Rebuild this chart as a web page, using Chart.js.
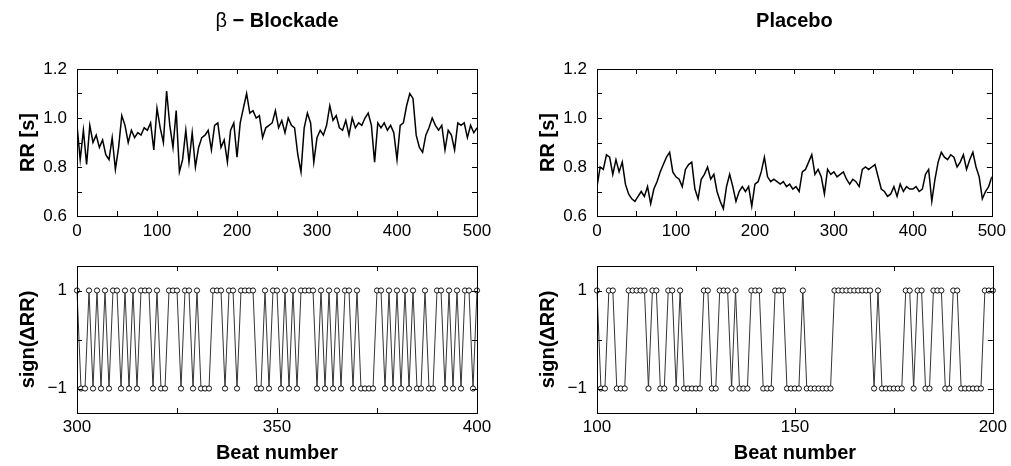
<!DOCTYPE html>
<html>
<head>
<meta charset="utf-8">
<script src="https://cdn.jsdelivr.net/npm/chart.js@4/dist/chart.umd.min.js"></script>
<style>
  body { margin: 0; background: #fff; }
  #wrap { position: relative; width: 1011px; height: 466px; }
  canvas { position: absolute; left: 0; top: 0; }
</style>
</head>
<body>
<div id="wrap">
  <canvas id="rrBetaChart" width="1011" height="466"></canvas>
  <canvas id="rrPlaceboChart" width="1011" height="466"></canvas>
  <canvas id="signBetaChart" width="1011" height="466"></canvas>
  <canvas id="signPlaceboChart" width="1011" height="466"></canvas>
</div>
<script>
// RR intervals [s], sampled every 4th beat (beats 0..500)
const rrStep = 4;
const rrBeta = [
  0.97,0.83,0.95,0.81,0.97,0.90,0.93,0.88,0.91,0.85,
  0.83,0.92,0.79,0.88,1.01,0.97,0.90,0.95,0.92,0.94,
  0.93,0.96,0.95,0.98,0.87,1.04,0.96,0.90,1.11,0.97,
  0.88,1.03,0.78,0.83,0.95,0.82,0.94,0.80,0.88,0.92,
  0.93,0.95,0.87,0.97,0.98,0.88,0.91,0.82,0.95,0.98,
  0.84,0.98,1.04,1.10,1.02,1.03,1.00,1.01,0.92,0.96,
  0.97,0.98,1.03,0.96,0.99,0.94,1.00,0.97,0.96,0.85,
  0.78,0.96,1.02,0.98,0.82,0.92,0.95,0.93,0.97,1.05,
  0.99,1.01,0.96,0.95,0.99,0.93,1.00,0.96,0.98,0.97,
  1.00,1.02,0.97,0.82,0.98,0.96,0.98,0.95,0.97,0.94,
  0.83,0.97,0.98,1.05,1.10,1.08,0.93,0.88,0.86,0.93,
  0.96,1.00,0.97,0.95,0.97,0.87,0.95,0.93,0.87,0.98,
  0.97,0.98,0.92,0.97,0.94,0.96
];
const rrPlacebo = [
  0.72,0.80,0.79,0.85,0.84,0.77,0.83,0.78,0.82,0.73,
  0.69,0.67,0.66,0.68,0.70,0.68,0.72,0.65,0.71,0.74,
  0.78,0.81,0.84,0.86,0.78,0.76,0.75,0.72,0.79,0.81,
  0.82,0.71,0.67,0.75,0.77,0.80,0.75,0.77,0.70,0.66,
  0.63,0.72,0.77,0.72,0.66,0.70,0.72,0.70,0.72,0.64,
  0.73,0.74,0.78,0.84,0.76,0.74,0.75,0.74,0.73,0.74,
  0.72,0.73,0.71,0.72,0.70,0.78,0.79,0.82,0.85,0.77,
  0.79,0.76,0.69,0.79,0.77,0.78,0.76,0.77,0.78,0.75,
  0.73,0.75,0.74,0.72,0.79,0.80,0.79,0.80,0.81,0.76,
  0.71,0.70,0.68,0.69,0.72,0.68,0.73,0.70,0.72,0.71,
  0.71,0.72,0.70,0.71,0.77,0.79,0.66,0.75,0.82,0.86,
  0.84,0.83,0.85,0.84,0.80,0.82,0.85,0.79,0.83,0.86,
  0.80,0.76,0.67,0.70,0.72,0.76
];

// sign(dRR), one value per beat
const signBetaStart = 300;
const signBeta = [
  1,-1,-1,1,-1,1,-1,1,-1,1,
  1,-1,1,-1,1,-1,1,1,1,-1,
  1,-1,-1,1,1,1,-1,1,1,-1,
  1,-1,-1,-1,1,1,1,-1,1,1,
  -1,1,1,1,1,-1,-1,1,-1,1,
  1,-1,1,-1,1,-1,1,1,1,1,
  -1,1,-1,1,-1,1,-1,1,1,-1,
  1,-1,-1,-1,-1,1,1,-1,1,-1,
  1,-1,1,-1,1,-1,-1,1,-1,-1,
  1,1,-1,1,-1,1,-1,1,1,-1,
  1
];
const signPlaceboStart = 100;
const signPlacebo = [
  1,-1,-1,1,1,-1,-1,-1,1,1,
  1,1,1,-1,1,1,-1,-1,1,1,
  -1,1,-1,-1,-1,-1,-1,1,1,-1,
  -1,1,1,1,-1,1,-1,-1,-1,1,
  1,1,-1,-1,-1,1,1,1,-1,-1,
  -1,-1,1,-1,-1,-1,-1,-1,-1,-1,
  1,1,1,1,1,1,1,1,1,1,
  -1,1,-1,-1,-1,-1,-1,-1,1,1,
  -1,1,1,-1,-1,1,1,1,-1,-1,
  1,1,-1,-1,-1,-1,-1,-1,1,1,
  1
];

// ticks (all drawn) and the ones that get a label
const rrTicks = [0.6, 0.7, 0.8, 0.9, 1.0, 1.1, 1.2];
const rrTickLabels = [0.6, 0.8, 1.0, 1.2];
const rrBeatTicks = [0, 50, 100, 150, 200, 250, 300, 350, 400, 450, 500];
const rrBeatLabels = [0, 100, 200, 300, 400, 500];
const signTicks = [-1, 0, 1];
const signTickLabels = [-1, 1];
const betaBeatTicks = [300, 325, 350, 375, 400];
const betaBeatLabels = [300, 350, 400];
const placeboBeatTicks = [100, 125, 150, 175, 200];
const placeboBeatLabels = [100, 150, 200];

const FONT = "'Liberation Sans', Arial, sans-serif";

// box frame, inward ticks on all four sides, panel title
const boxTicks = {
  id: 'boxTicks',
  afterDraw(chart, args, opts) {
    const { ctx, chartArea: a, scales: { x, y } } = chart;
    ctx.save();
    ctx.strokeStyle = '#000';
    ctx.lineWidth = 1;
    ctx.beginPath();
    x.ticks.forEach(t => {
      const px = Math.round(x.getPixelForValue(t.value)) + 0.5;
      if (px < a.left + 2 || px > a.right - 2) return;
      ctx.moveTo(px, a.bottom); ctx.lineTo(px, a.bottom - 5);
      ctx.moveTo(px, a.top); ctx.lineTo(px, a.top + 5);
    });
    y.ticks.forEach(t => {
      const py = Math.round(y.getPixelForValue(t.value)) + 0.5;
      if (py < a.top + 2 || py > a.bottom - 2) return;
      ctx.moveTo(a.left, py); ctx.lineTo(a.left + 5, py);
      ctx.moveTo(a.right, py); ctx.lineTo(a.right - 5, py);
    });
    ctx.stroke();
    ctx.strokeRect(Math.round(a.left) + 0.5, Math.round(a.top) + 0.5,
      Math.round(a.width), Math.round(a.height));

    if (opts.title) {
      const parts = opts.title;
      let total = 0;
      parts.forEach(p => {
        ctx.font = (p.bold ? 'bold ' : '') + '20px ' + FONT;
        p.w = ctx.measureText(p.text).width;
        total += p.w;
      });
      let cx = (a.left + a.right) / 2 - total / 2;
      ctx.fillStyle = '#000';
      ctx.textBaseline = 'alphabetic';
      ctx.textAlign = 'left';
      parts.forEach(p => {
        ctx.font = (p.bold ? 'bold ' : '') + '20px ' + FONT;
        ctx.fillText(p.text, cx, 27);
        cx += p.w;
      });
    }
    ctx.restore();
  }
};

function fixedTicks(values) {
  return scale => { scale.ticks = values.map(v => ({ value: v })); };
}

function makeChart(id, cfg) {
  const isTop = cfg.top;
  return new Chart(document.getElementById(id), {
    type: 'line',
    data: {
      datasets: [{
        data: cfg.points,
        borderColor: isTop ? '#000' : '#333',
        borderWidth: isTop ? 1.5 : 1,
        pointRadius: isTop ? 0 : 2.6,
        pointBackgroundColor: '#fff',
        pointBorderColor: '#111',
        pointBorderWidth: 1,
        tension: 0,
        clip: isTop ? 0 : 6
      }]
    },
    options: {
      responsive: false,
      animation: false,
      events: [],
      layout: { padding: cfg.padding },
      plugins: {
        legend: { display: false },
        tooltip: { enabled: false },
        boxTicks: { title: cfg.title }
      },
      scales: {
        x: {
          type: 'linear',
          min: cfg.xTicks[0],
          max: cfg.xTicks[cfg.xTicks.length - 1],
          afterBuildTicks: fixedTicks(cfg.xTicks),
          afterFit: s => { s.height = isTop ? 30 : 53; },
          grid: { display: false, drawTicks: false },
          border: { display: false },
          ticks: {
            autoSkip: false, maxRotation: 0, padding: isTop ? 5 : 4,
            color: '#000', font: { family: FONT, size: 17 },
            callback: v => cfg.xLabels.includes(v) ? String(v) : ''
          },
          title: {
            display: !isTop, text: 'Beat number', color: '#000',
            font: { family: FONT, size: 20, weight: 'bold' },
            padding: { top: 0, bottom: 1 }
          }
        },
        y: {
          min: cfg.yTicks[0],
          max: cfg.yMax !== undefined ? cfg.yMax : cfg.yTicks[cfg.yTicks.length - 1],
          afterBuildTicks: fixedTicks(cfg.yTicks),
          afterFit: s => { s.width = 77; },
          grid: { display: false, drawTicks: false },
          border: { display: false },
          ticks: {
            autoSkip: false, padding: 10,
            color: '#000', font: { family: FONT, size: 17 },
            callback: cfg.yFormat
          },
          title: {
            display: true, text: cfg.yTitle, color: '#000',
            font: { family: FONT, size: 20, weight: 'bold' },
            padding: { top: 16, bottom: 0 }
          }
        }
      }
    },
    plugins: [boxTicks]
  });
}

const rrFormat = v => rrTickLabels.some(l => Math.abs(l - v) < 1e-9) ? v.toFixed(1) : '';
const signFormat = v => signTickLabels.includes(v) ? (v < 0 ? '\u22121' : '1') : '';

makeChart('rrBetaChart', {
  top: true,
  points: rrBeta.map((v, i) => ({ x: i * rrStep, y: v })),
  padding: { left: 0, top: 69, right: 534, bottom: 220 },
  xTicks: rrBeatTicks, xLabels: rrBeatLabels,
  yTicks: rrTicks, yFormat: rrFormat, yTitle: 'RR [s]',
  title: [{ text: '\u03b2', bold: false }, { text: ' \u2212 Blockade', bold: true }]
});

makeChart('rrPlaceboChart', {
  top: true,
  points: rrPlacebo.map((v, i) => ({ x: i * rrStep, y: v })),
  padding: { left: 520, top: 69, right: 14, bottom: 220 },
  xTicks: rrBeatTicks, xLabels: rrBeatLabels,
  yTicks: rrTicks, yFormat: rrFormat, yTitle: 'RR [s]',
  title: [{ text: 'Placebo', bold: true }]
});

makeChart('signBetaChart', {
  top: false,
  points: signBeta.map((v, i) => ({ x: signBetaStart + i, y: v })),
  padding: { left: 0, top: 266, right: 534, bottom: 0 },
  xTicks: betaBeatTicks, xLabels: betaBeatLabels,
  yTicks: [-1.5].concat(signTicks), yMax: 1.5, yFormat: signFormat,
  yTitle: 'sign(\u0394RR)'
});

makeChart('signPlaceboChart', {
  top: false,
  points: signPlacebo.map((v, i) => ({ x: signPlaceboStart + i, y: v })),
  padding: { left: 520, top: 266, right: 14, bottom: 0 },
  xTicks: placeboBeatTicks, xLabels: placeboBeatLabels,
  yTicks: [-1.5].concat(signTicks), yMax: 1.5, yFormat: signFormat,
  yTitle: 'sign(\u0394RR)'
});
</script>
</body>
</html>
